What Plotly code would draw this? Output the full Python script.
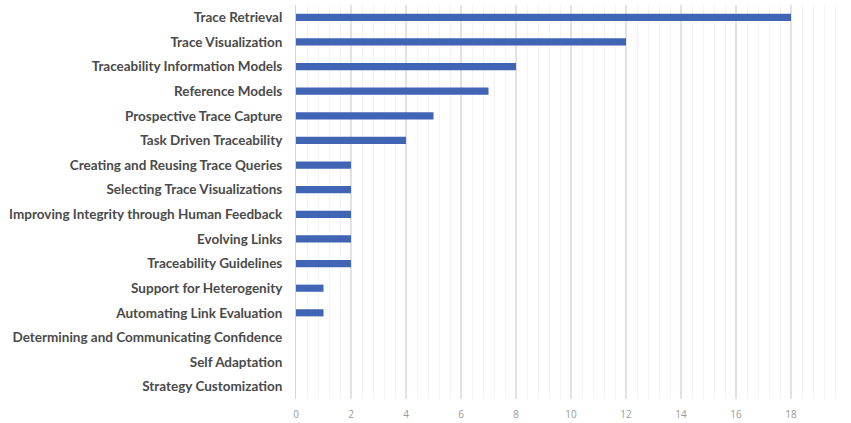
import plotly.graph_objects as go

categories = [
    "Trace Retrieval",
    "Trace Visualization",
    "Traceability Information Models",
    "Reference Models",
    "Prospective Trace Capture",
    "Task Driven Traceability",
    "Creating and Reusing Trace Queries",
    "Selecting Trace Visualizations",
    "Improving Integrity through Human Feedback",
    "Evolving Links",
    "Traceability Guidelines",
    "Support for Heterogenity",
    "Automating Link Evaluation",
    "Determining and Communicating Confidence",
    "Self Adaptation",
    "Strategy Customization",
]
values = [18, 12, 8, 7, 5, 4, 2, 2, 2, 2, 2, 1, 1, 0, 0, 0]
x_ticks = [0, 2, 4, 6, 8, 10, 12, 14, 16, 18, 20]

fig = go.Figure(go.Bar(
    y=categories,
    x=values,
    orientation="h",
    marker=dict(color="#4065B4", line=dict(width=0)),
))

fig.update_layout(
    width=851, height=423,
    margin=dict(l=296, r=5, t=5, b=24),
    paper_bgcolor="white",
    plot_bgcolor="white",
    bargap=0.71,
    showlegend=False,
    font=dict(family="Lato", color="#505050"),
)
fig.update_xaxes(
    range=[0, 20],
    tickvals=x_ticks,
    ticktext=[str(v) for v in x_ticks],
    showgrid=True,
    gridcolor="#E6E0E0",
    gridwidth=1.5,
    zeroline=False,
    showline=False,
    automargin=False,
    tickfont=dict(size=10, color="#9A9A9A", family="Open Sans"),
    ticks="",
    ticklabelstandoff=8,
    minor=dict(dtick=0.4, showgrid=True, gridcolor="#F5F2F2", gridwidth=1),
)
fig.update_yaxes(
    categoryorder="array",
    categoryarray=categories[::-1],
    showline=True,
    linecolor="#D8D2D2",
    linewidth=1,
    showgrid=False,
    ticks="",
    ticklabelstandoff=10,
    tickfont=dict(size=13.5, color="#4A4A4A", family="Lato", weight="bold"),
)

fig.write_html("out.html")
